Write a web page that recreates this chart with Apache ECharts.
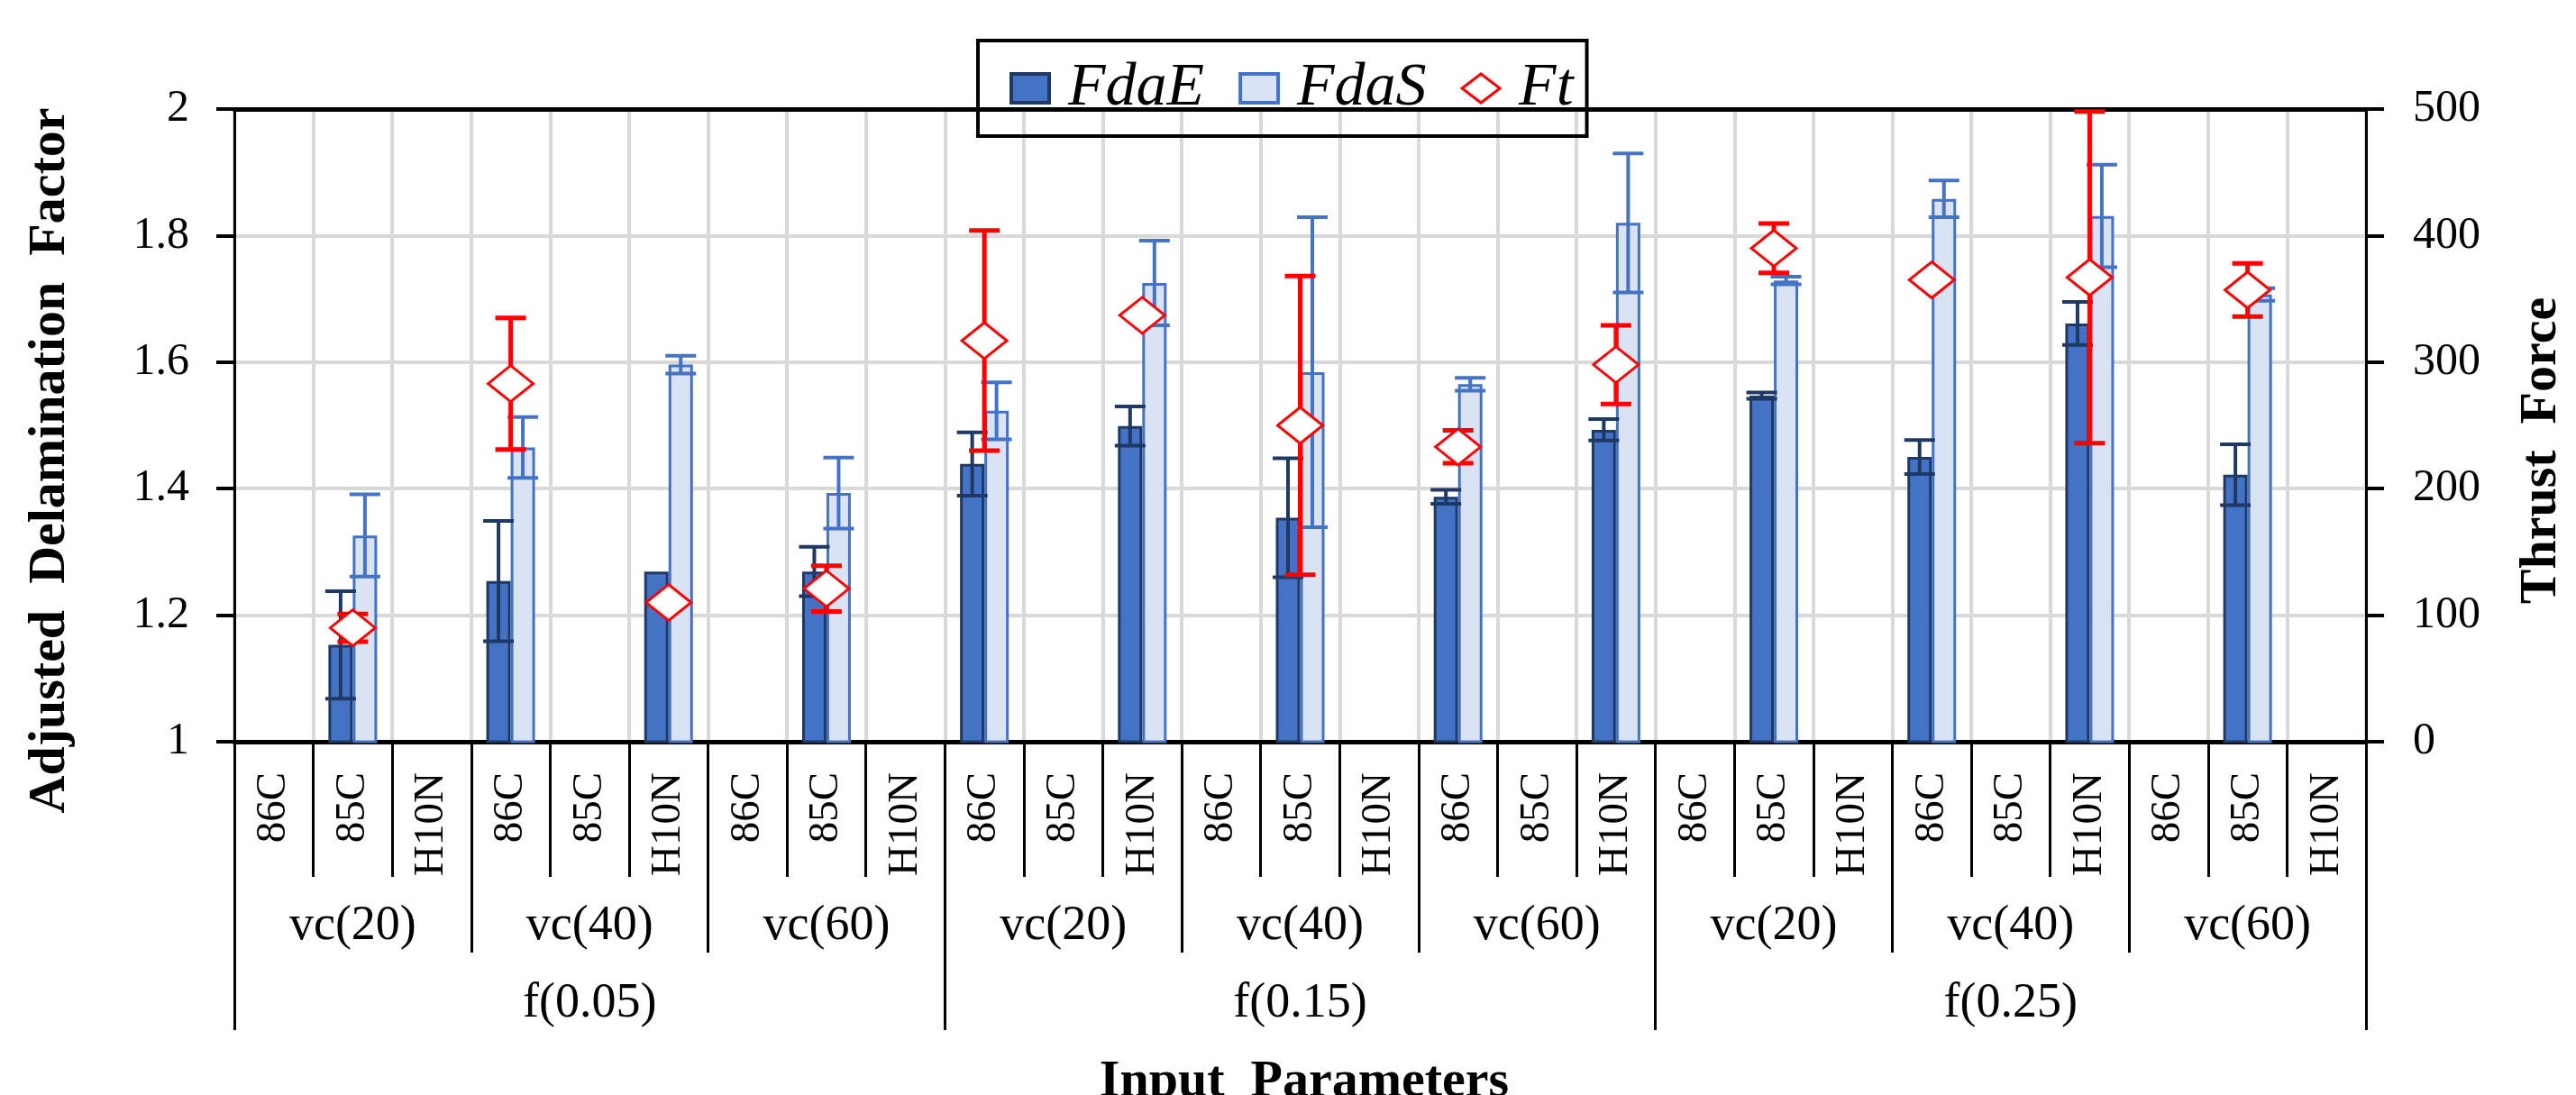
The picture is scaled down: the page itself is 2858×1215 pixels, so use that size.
<!DOCTYPE html>
<html>
<head>
<meta charset="utf-8">
<script src="https://cdn.jsdelivr.net/npm/echarts@6/dist/echarts.min.js"></script>
<style>
html,body{margin:0;padding:0;background:#fff;}
#chart{width:2858px;height:1215px;}
</style>
</head>
<body>
<div id="chart"></div>
<script>
// ---------- data ----------
const categories = ['86C','85C','H10N','86C','85C','H10N','86C','85C','H10N',
                    '86C','85C','H10N','86C','85C','H10N','86C','85C','H10N',
                    '86C','85C','H10N','86C','85C','H10N','86C','85C','H10N'];
const vcLabels = ['vc(20)','vc(40)','vc(60)','vc(20)','vc(40)','vc(60)','vc(20)','vc(40)','vc(60)'];
const fLabels = ['f(0.05)','f(0.15)','f(0.25)'];

const fdaE    = [null,1.153,null, 1.254,null,1.269, null,1.269,null,
                 1.439,null,1.499, null,1.354,null, 1.387,null,1.493,
                 null,1.547,null, 1.450,null,1.661, null,1.422,null];
const fdaEErr = [null,0.085,null, 0.095,null,0, null,0.039,null,
                 0.050,null,0.031, null,0.094,null, 0.011,null,0.017,
                 null,0.005,null, 0.027,null,0.034, null,0.048,null];
const fdaS    = [null,1.326,null, 1.465,null,1.596, null,1.393,null,
                 1.523,null,1.725, null,1.584,null, 1.565,null,1.820,
                 null,1.729,null, 1.858,null,1.831, null,1.707,null];
const fdaSErr = [null,0.065,null, 0.048,null,0.014, null,0.056,null,
                 0.045,null,0.067, null,0.245,null, 0.010,null,0.110,
                 null,0.006,null, 0.029,null,0.081, null,0.010,null];
const ft      = [null,90,null, 283,null,110, null,121,null,
                 317,null,337, null,250,null, 233,null,298,
                 null,390,null, 365,null,367, null,357,null];
const ftErr   = [null,11,null, 52,null,0, null,18,null,
                 87,null,0, null,118,null, 13,null,31,
                 null,19.5,null, 0,null,131, null,21,null];

const leftAxis = {min:1, max:2, interval:0.2};
const rightAxis = {min:0, max:500, interval:100};

// ---------- helpers ----------
function errData(vals, errs){
  const out = [];
  vals.forEach((v,i)=>{
    if (v !== null && errs[i] !== null && errs[i] > 0) out.push([i, v - errs[i], v + errs[i]]);
  });
  return out;
}
function errRender(offset, color, lw, cap){
  return function(params, api){
    const x = api.value(0);
    const lo = api.coord([x, api.value(1)]);
    const hi = api.coord([x, api.value(2)]);
    const cx = lo[0] + offset;
    const st = {stroke: color, lineWidth: lw};
    return {type:'group', children:[
      {type:'line', shape:{x1:cx, y1:lo[1], x2:cx, y2:hi[1]}, style:st},
      {type:'line', shape:{x1:cx-cap, y1:hi[1], x2:cx+cap, y2:hi[1]}, style:st},
      {type:'line', shape:{x1:cx-cap, y1:lo[1], x2:cx+cap, y2:lo[1]}, style:st}
    ]};
  };
}

const SERIF = "'Liberation Serif','Times New Roman',serif";
const GRID_C = '#d9d9d9';
const BAR_W = 27;

const chart = echarts.init(document.getElementById('chart'), null, {renderer:'canvas'});

const option = {
  backgroundColor: '#ffffff',
  animation: false,
  grid: {left:260, right:233, top:121, height:702, containLabel:false},
  legend: {
    left:1085, top:45, orient:'horizontal',
    borderColor:'#000', borderWidth:4,
    padding:[18,15,18,35],
    itemWidth:42, itemHeight:32, itemGap:38,
    selectedMode:false,
    textStyle:{fontFamily:SERIF, fontStyle:'italic', fontSize:68, color:'#000', lineHeight:70, padding:[0,0,0,16]},
    data:[
      {name:'FdaE', icon:'rect', itemStyle:{color:'#4472C4', borderColor:'#1F3864', borderWidth:4}},
      {name:'FdaS', icon:'rect', itemStyle:{color:'#DAE3F3', borderColor:'#4472C4', borderWidth:4}},
      {name:'Ft', icon:'diamond', itemStyle:{color:'#ffffff', borderColor:'#FF0000', borderWidth:3}}
    ]
  },
  xAxis: [
    { type:'category', data:categories, position:'bottom',
      axisLine:{show:true, lineStyle:{color:'#000', width:5}},
      axisTick:{show:true, interval:0, length:150, lineStyle:{color:'#000', width:3}},
      axisLabel:{show:true, interval:0, rotate:90, margin:34, fontFamily:SERIF, fontSize:47, color:'#000'},
      splitLine:{show:true, interval:0, lineStyle:{color:GRID_C, width:4}}
    },
    { type:'category', data:vcLabels, position:'bottom', offset:0,
      axisLine:{show:false},
      axisTick:{show:true, interval:0, length:234, lineStyle:{color:'#000', width:3}},
      axisLabel:{show:true, interval:0, margin:180, lineHeight:50, fontFamily:SERIF, fontSize:54, color:'#000'},
      splitLine:{show:false}
    },
    { type:'category', data:fLabels, position:'bottom', offset:0,
      axisLine:{show:false},
      axisTick:{show:true, interval:0, length:320, lineStyle:{color:'#000', width:3}},
      axisLabel:{show:true, interval:0, margin:266, lineHeight:50, fontFamily:SERIF, fontSize:54, color:'#000'},
      splitLine:{show:false}
    },
    { type:'category', data:categories, position:'top',
      axisLine:{show:true, lineStyle:{color:'#000', width:5}},
      axisTick:{show:false}, axisLabel:{show:false}, splitLine:{show:false}
    }
  ],
  yAxis: [
    { type:'value', position:'left', min:leftAxis.min, max:leftAxis.max, interval:leftAxis.interval,
      axisLine:{show:true, lineStyle:{color:'#000', width:3}},
      axisTick:{show:true, inside:false, length:20, lineStyle:{color:'#000', width:4}},
      axisLabel:{margin:50, fontFamily:SERIF, fontSize:50, color:'#000'},
      splitLine:{show:true, lineStyle:{color:GRID_C, width:4}}
    },
    { type:'value', position:'right', min:rightAxis.min, max:rightAxis.max, interval:rightAxis.interval,
      axisLine:{show:true, lineStyle:{color:'#000', width:3}},
      axisTick:{show:true, inside:false, length:20, lineStyle:{color:'#000', width:4}},
      axisLabel:{margin:52, fontFamily:SERIF, fontSize:50, color:'#000'},
      splitLine:{show:false}
    }
  ],
  series: [
    { name:'FdaE', type:'bar', xAxisIndex:0, yAxisIndex:0, data:fdaE, barWidth:BAR_W, barGap:'0%', z:2,
      itemStyle:{color:'#4472C4', borderColor:'#1F3864', borderWidth:3} },
    { name:'FdaS', type:'bar', xAxisIndex:0, yAxisIndex:0, data:fdaS, barWidth:BAR_W, barGap:'0%', z:2,
      itemStyle:{color:'#DAE3F3', borderColor:'#4472C4', borderWidth:3} },
    { name:'FdaE err', type:'custom', xAxisIndex:0, yAxisIndex:0, z:4,
      renderItem: errRender(-BAR_W/2, '#1F3864', 4, 17), data: errData(fdaE, fdaEErr) },
    { name:'FdaS err', type:'custom', xAxisIndex:0, yAxisIndex:0, z:4,
      renderItem: errRender(BAR_W/2, '#4472C4', 4, 17), data: errData(fdaS, fdaSErr) },
    { name:'Ft err', type:'custom', xAxisIndex:0, yAxisIndex:1, z:5,
      renderItem: errRender(0, '#FF0000', 5, 17), data: errData(ft, ftErr) },
    { name:'Ft', type:'scatter', xAxisIndex:0, yAxisIndex:1, z:6, data:ft,
      symbol:'diamond', symbolSize:[50,40],
      itemStyle:{color:'#ffffff', borderColor:'#FF0000', borderWidth:3, opacity:1} }
  ],
  graphic: [
    { type:'text', x:56, y:511, rotation:Math.PI/2, z:10,
      style:{text:'Adjusted  Delamination  Factor', fontFamily:SERIF, fontWeight:'bold', fontSize:58, fill:'#000', align:'center', verticalAlign:'middle'} },
    { type:'text', x:2820, y:500, rotation:Math.PI/2, z:10,
      style:{text:'Thrust  Force', fontFamily:SERIF, fontWeight:'bold', fontSize:58, fill:'#000', align:'center', verticalAlign:'middle'} },
    { type:'text', x:1447, y:1201, z:10,
      style:{text:'Input  Parameters', fontFamily:SERIF, fontWeight:'bold', fontSize:58, fill:'#000', align:'center', verticalAlign:'middle'} }
  ]
};
chart.setOption(option);
</script>
</body>
</html>
